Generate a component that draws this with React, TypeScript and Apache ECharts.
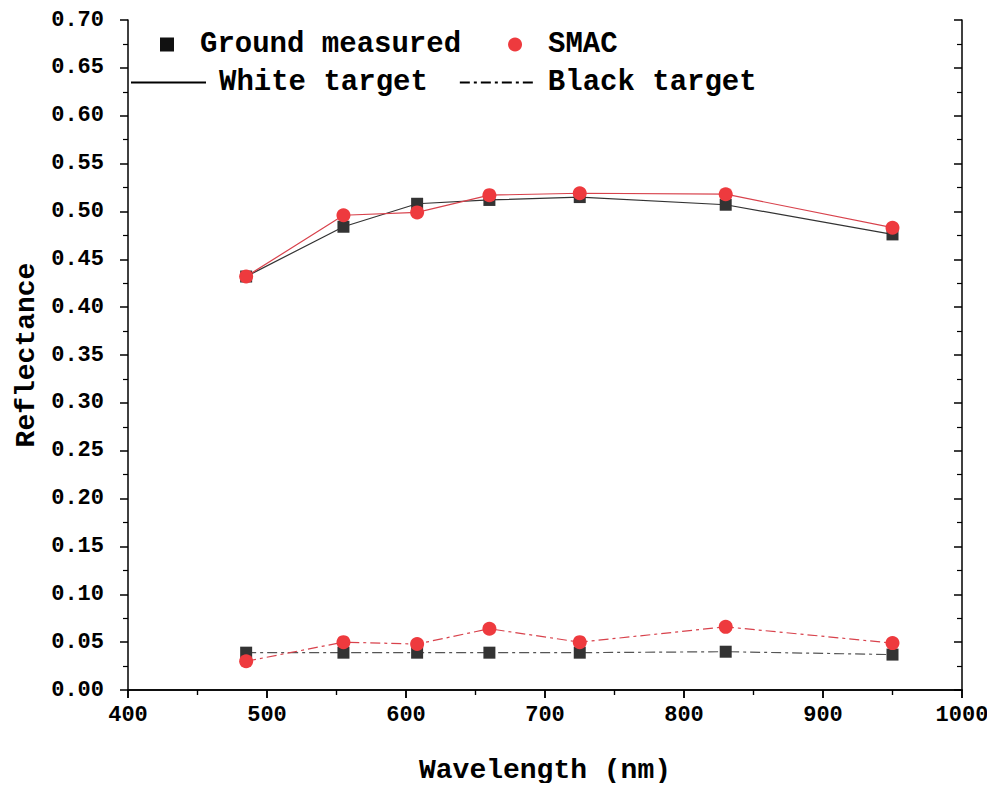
import React, { useEffect, useRef } from "react";
import * as echarts from "echarts";

const wavelengths = [485, 555, 608, 660, 725, 830, 950];
const whiteGround = [0.432, 0.484, 0.508, 0.512, 0.515, 0.507, 0.476];
const whiteSMAC = [0.432, 0.496, 0.499, 0.517, 0.519, 0.518, 0.483];
const blackGround = [0.039, 0.039, 0.039, 0.039, 0.039, 0.04, 0.037];
const blackSMAC = [0.03, 0.05, 0.048, 0.064, 0.05, 0.066, 0.049];

const legendRow1 = ["Ground measured", "SMAC"];
const legendRow2 = ["White target", "Black target"];

const FONT = "'Liberation Mono', 'DejaVu Sans Mono', monospace";
const BLACK = "#333333";
const RED = "#ee3a3e";
const RED_LINE = "#d8424c";
const DASHDOT = [10, 4, 3, 4];

const pair = (ys: number[]) => wavelengths.map((x, i) => [x, ys[i]]);

export default function App() {
  const ref = useRef<HTMLDivElement>(null);
  useEffect(() => {
    if (!ref.current) return;
    const chart = echarts.init(ref.current, null, { renderer: "svg" });
    const axisLine = { show: true, lineStyle: { color: "#000", width: 1.5 } };
    const xCommon = {
      type: "value" as const,
      min: 400,
      max: 1000,
      interval: 100,
      splitLine: { show: false },
      axisLine,
      minorTick: { show: true, splitNumber: 2, length: 5, lineStyle: { color: "#000", width: 1.2 } },
    };
    const yCommon = {
      type: "value" as const,
      min: 0,
      max: 0.7,
      interval: 0.05,
      splitLine: { show: false },
      axisLine,
      minorTick: { show: true, splitNumber: 2, length: 5, lineStyle: { color: "#000", width: 1.2 } },
    };
    chart.setOption({
      animation: false,
      backgroundColor: "#fff",
      grid: { left: 128, right: 33, top: 20, bottom: 101, containLabel: false },
      xAxis: [
        {
          ...xCommon,
          position: "bottom",
          name: "Wavelength (nm)",
          nameLocation: "middle",
          nameGap: 66,
          nameTextStyle: { fontFamily: FONT, fontWeight: "bold", fontSize: 28, color: "#000" },
          axisTick: { show: true, inside: false, length: 8, lineStyle: { color: "#000", width: 1.5 } },
          axisLabel: {
            show: true,
            margin: 14,
            fontFamily: FONT,
            fontWeight: "bold",
            fontSize: 22,
            color: "#000",
            formatter: (v: number) => String(v),
          },
        },
        {
          ...xCommon,
          position: "top",
          axisTick: { show: true, inside: true, length: 8, lineStyle: { color: "#000", width: 1.5 } },
          axisLabel: { show: false },
        },
      ],
      yAxis: [
        {
          ...yCommon,
          position: "left",
          name: "Reflectance",
          nameLocation: "middle",
          nameGap: 88,
          nameTextStyle: { fontFamily: FONT, fontWeight: "bold", fontSize: 28, color: "#000" },
          axisTick: { show: true, inside: false, length: 8, lineStyle: { color: "#000", width: 1.5 } },
          axisLabel: {
            show: true,
            margin: 24,
            fontFamily: FONT,
            fontWeight: "bold",
            fontSize: 22,
            color: "#000",
            formatter: (v: number) => v.toFixed(2),
          },
        },
        {
          ...yCommon,
          position: "right",
          axisTick: { show: true, inside: true, length: 8, lineStyle: { color: "#000", width: 1.5 } },
          axisLabel: { show: false },
        },
      ],
      legend: [
        {
          data: legendRow1,
          left: 155,
          top: 25,
          orient: "horizontal",
          itemWidth: 14,
          itemHeight: 14,
          itemGap: 47,
          selectedMode: false,
          textStyle: {
            fontFamily: FONT,
            fontWeight: "bold",
            fontSize: 29,
            color: "#000",
            padding: [0, 0, 0, 21],
          },
        },
        {
          data: legendRow2,
          left: 125,
          top: 63,
          orient: "horizontal",
          itemWidth: 75,
          itemHeight: 14,
          itemGap: 31,
          selectedMode: false,
          itemStyle: { color: "rgba(0,0,0,0)", borderWidth: 0, opacity: 0 },
          textStyle: {
            fontFamily: FONT,
            fontWeight: "bold",
            fontSize: 29,
            color: "#000",
            padding: [0, 0, 0, 8],
          },
        },
      ],
      series: [
        {
          name: "Ground measured",
          type: "scatter",
          symbol: "rect",
          symbolSize: 14,
          itemStyle: { color: "#111", opacity: 1 },
          data: [],
        },
        {
          name: "SMAC",
          type: "scatter",
          symbol: "circle",
          symbolSize: 14,
          itemStyle: { color: RED, opacity: 1 },
          data: [],
        },
        {
          name: "White target",
          type: "line",
          symbol: "none",
          lineStyle: { color: "#000", width: 1.2, type: "solid" },
          itemStyle: { color: "#000" },
          data: [],
        },
        {
          name: "Black target",
          type: "line",
          symbol: "none",
          lineStyle: { color: "#000", width: 1.2, type: DASHDOT },
          itemStyle: { color: "#000" },
          data: [],
        },
        {
          name: "White ground",
          type: "line",
          xAxisIndex: 0,
          yAxisIndex: 0,
          symbol: "rect",
          symbolSize: 12,
          itemStyle: { color: BLACK },
          lineStyle: { color: BLACK, width: 1.2, type: "solid" },
          data: pair(whiteGround),
        },
        {
          name: "Black ground",
          type: "line",
          xAxisIndex: 0,
          yAxisIndex: 0,
          symbol: "rect",
          symbolSize: 12,
          itemStyle: { color: BLACK },
          lineStyle: { color: "#555", width: 1.2, type: DASHDOT },
          data: pair(blackGround),
        },
        {
          name: "White SMAC",
          type: "line",
          xAxisIndex: 0,
          yAxisIndex: 0,
          symbol: "circle",
          symbolSize: 14,
          itemStyle: { color: RED },
          lineStyle: { color: RED_LINE, width: 1.2, type: "solid" },
          data: pair(whiteSMAC),
        },
        {
          name: "Black SMAC",
          type: "line",
          xAxisIndex: 0,
          yAxisIndex: 0,
          symbol: "circle",
          symbolSize: 14,
          itemStyle: { color: RED },
          lineStyle: { color: RED_LINE, width: 1.2, type: DASHDOT },
          data: pair(blackSMAC),
        },
      ],
    });
    return () => chart.dispose();
  }, []);
  return <div ref={ref} style={{ width: 995, height: 791, margin: -8 }} />;
}
